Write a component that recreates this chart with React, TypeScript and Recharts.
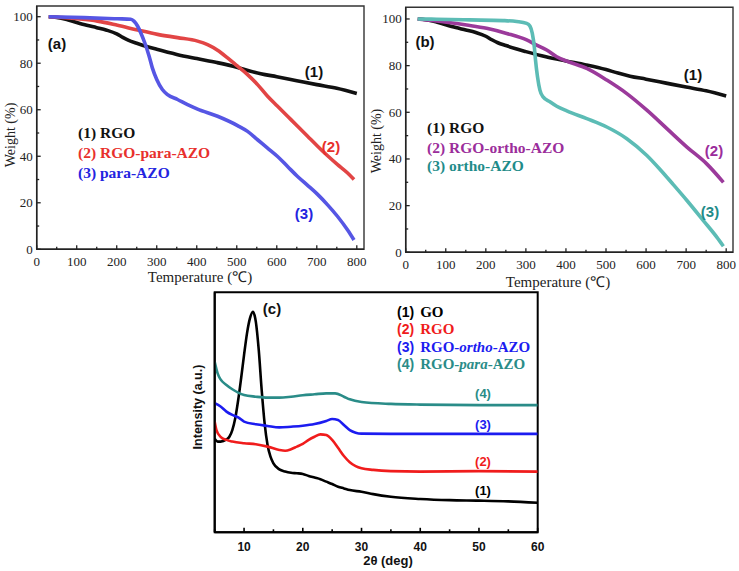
import React from 'react';
import { LineChart, Line, XAxis, YAxis, ReferenceArea } from 'recharts';

type Pt = { x: number; y: number };

// ---------- TGA data: temperature (°C) vs weight (%) ----------
const rgoTGA: Pt[] = [
  { x: 30, y: 100 }, { x: 50, y: 99.7 }, { x: 75, y: 98.8 }, { x: 100, y: 97.5 }, { x: 125, y: 96.3 },
  { x: 150, y: 95.3 }, { x: 175, y: 94.2 }, { x: 200, y: 92.6 }, { x: 215, y: 91.1 }, { x: 230, y: 89.8 },
  { x: 250, y: 88.6 }, { x: 275, y: 87.2 }, { x: 300, y: 86 }, { x: 350, y: 83.8 }, { x: 400, y: 82 },
  { x: 450, y: 80.3 }, { x: 500, y: 78.3 }, { x: 530, y: 76.8 }, { x: 560, y: 75.5 }, { x: 600, y: 74.2 },
  { x: 650, y: 72.5 }, { x: 700, y: 70.8 }, { x: 750, y: 69.2 }, { x: 800, y: 67 },
];

const rgoParaTGA: Pt[] = [
  { x: 30, y: 100 }, { x: 102, y: 99.1 }, { x: 152, y: 98.1 }, { x: 202, y: 96.3 }, { x: 252, y: 94.3 },
  { x: 302, y: 92.4 }, { x: 352, y: 91 }, { x: 402, y: 89.5 }, { x: 427, y: 88 }, { x: 452, y: 85.6 },
  { x: 477, y: 82.3 }, { x: 502, y: 78.7 }, { x: 527, y: 75.1 }, { x: 552, y: 70.8 }, { x: 577, y: 65.8 },
  { x: 602, y: 61.5 }, { x: 627, y: 57.2 }, { x: 652, y: 52.9 }, { x: 677, y: 48.6 }, { x: 702, y: 44.3 },
  { x: 727, y: 40.2 }, { x: 752, y: 36.4 }, { x: 777, y: 32.8 }, { x: 793, y: 30 },
];

const paraTGA: Pt[] = [
  { x: 30, y: 100 }, { x: 118, y: 99.6 }, { x: 202, y: 99.1 }, { x: 235, y: 98.9 }, { x: 243, y: 98.1 },
  { x: 252, y: 96 }, { x: 260, y: 93.1 }, { x: 270, y: 88.8 }, { x: 281, y: 83 }, { x: 289, y: 78 },
  { x: 300, y: 73 }, { x: 314, y: 68.7 }, { x: 327, y: 66.5 }, { x: 352, y: 64.4 }, { x: 377, y: 62.2 },
  { x: 402, y: 60.3 }, { x: 452, y: 57.2 }, { x: 502, y: 53.2 }, { x: 527, y: 50.7 }, { x: 552, y: 47.1 },
  { x: 577, y: 43.5 }, { x: 602, y: 39.9 }, { x: 627, y: 35.6 }, { x: 652, y: 31.3 }, { x: 677, y: 27.5 },
  { x: 702, y: 23.6 }, { x: 727, y: 19.1 }, { x: 752, y: 14.1 }, { x: 777, y: 8.3 }, { x: 793, y: 4 },
];

const rgoOrthoTGA: Pt[] = [
  { x: 30, y: 100 }, { x: 102, y: 98.6 }, { x: 152, y: 97.4 }, { x: 202, y: 96 }, { x: 252, y: 93.8 },
  { x: 302, y: 91 }, { x: 327, y: 88.8 }, { x: 352, y: 86.7 }, { x: 377, y: 83.8 }, { x: 402, y: 81.9 },
  { x: 452, y: 78.8 }, { x: 502, y: 73.8 }, { x: 552, y: 68 }, { x: 602, y: 60.9 }, { x: 652, y: 53 },
  { x: 702, y: 45.1 }, { x: 752, y: 37.8 }, { x: 793, y: 30 },
];

const orthoTGA: Pt[] = [
  { x: 30, y: 100 }, { x: 77, y: 99.9 }, { x: 160, y: 99.6 }, { x: 243, y: 99.3 }, { x: 277, y: 98.9 },
  { x: 302, y: 98.1 }, { x: 310, y: 97 }, { x: 316, y: 93.8 }, { x: 321, y: 88.1 }, { x: 324, y: 82.4 },
  { x: 329, y: 75.2 }, { x: 335, y: 69.5 }, { x: 343, y: 66.6 }, { x: 360, y: 64.5 }, { x: 377, y: 62.6 },
  { x: 402, y: 60.6 }, { x: 452, y: 57.3 }, { x: 502, y: 53.7 }, { x: 552, y: 48.7 }, { x: 602, y: 41.5 },
  { x: 635, y: 35.5 }, { x: 668, y: 29 }, { x: 702, y: 22.2 }, { x: 743, y: 13.6 }, { x: 777, y: 6.4 },
  { x: 793, y: 2.6 },
];

// ---------- XRD data: 2θ (deg) vs intensity (a.u.) ----------
const goXRD: Pt[] = [
  { x: 5, y: 39 }, { x: 5.5, y: 37.8 }, { x: 6, y: 37.8 }, { x: 7, y: 38.7 }, { x: 7.5, y: 39.8 },
  { x: 8, y: 42.6 }, { x: 8.5, y: 47.5 }, { x: 9, y: 55.1 }, { x: 9.5, y: 64.2 }, { x: 10, y: 73.9 },
  { x: 10.5, y: 82.9 }, { x: 11, y: 89.1 }, { x: 11.5, y: 91.9 }, { x: 12, y: 87.8 }, { x: 12.5, y: 76 },
  { x: 13, y: 59.3 }, { x: 13.5, y: 45.4 }, { x: 14, y: 36.4 }, { x: 14.5, y: 31.5 }, { x: 15, y: 28.7 },
  { x: 16, y: 26.2 }, { x: 17, y: 25.3 }, { x: 18, y: 24.8 }, { x: 19, y: 24.6 }, { x: 20, y: 24.3 },
  { x: 21, y: 23.5 }, { x: 22, y: 22.8 }, { x: 23, y: 22.1 }, { x: 24, y: 21.1 }, { x: 25, y: 20.1 },
  { x: 26, y: 19 }, { x: 27, y: 18.3 }, { x: 28, y: 17.6 }, { x: 30, y: 16.9 }, { x: 32, y: 15.9 },
  { x: 35, y: 14.8 }, { x: 40, y: 13.9 }, { x: 45, y: 13.4 }, { x: 50, y: 13.2 }, { x: 55, y: 12.9 },
  { x: 60, y: 12.3 },
];

const rgoXRD: Pt[] = [
  { x: 5, y: 46.1 }, { x: 5.3, y: 42.6 }, { x: 6, y: 39.8 }, { x: 7, y: 38.5 }, { x: 8, y: 37.8 },
  { x: 10, y: 37.1 }, { x: 12, y: 36.7 }, { x: 14, y: 35.7 }, { x: 16, y: 34.3 }, { x: 17, y: 34 },
  { x: 18, y: 34.6 }, { x: 19, y: 35.7 }, { x: 20, y: 36.8 }, { x: 21, y: 38.5 }, { x: 22, y: 39.8 },
  { x: 23, y: 40.8 }, { x: 24, y: 40.5 }, { x: 25, y: 38.5 }, { x: 26, y: 35.2 }, { x: 27, y: 31.8 },
  { x: 28, y: 29.2 }, { x: 29, y: 27.6 }, { x: 30, y: 26.7 }, { x: 32, y: 26 }, { x: 35, y: 25.5 },
  { x: 40, y: 25.3 }, { x: 50, y: 25.5 }, { x: 60, y: 25.3 },
];

const rgoOrthoXRD: Pt[] = [
  { x: 5, y: 53.8 }, { x: 6, y: 52.4 }, { x: 7, y: 50.3 }, { x: 8, y: 48.9 }, { x: 9, y: 47.9 },
  { x: 10, y: 46.1 }, { x: 12, y: 45 }, { x: 14, y: 44.3 }, { x: 16, y: 43.7 }, { x: 18, y: 44 },
  { x: 20, y: 44.4 }, { x: 22, y: 45.1 }, { x: 24, y: 46.4 }, { x: 25, y: 47.2 }, { x: 26, y: 46.8 },
  { x: 27, y: 44.7 }, { x: 28, y: 42.6 }, { x: 29, y: 41.5 }, { x: 30, y: 41.1 }, { x: 35, y: 41 },
  { x: 40, y: 41 }, { x: 50, y: 41 }, { x: 60, y: 41 },
];

const rgoParaXRD: Pt[] = [
  { x: 5, y: 71 }, { x: 5.5, y: 66.2 }, { x: 6, y: 63.7 }, { x: 7, y: 61.4 }, { x: 8, y: 59.6 },
  { x: 9, y: 58.2 }, { x: 10, y: 57.2 }, { x: 12, y: 56.5 }, { x: 14, y: 56.1 }, { x: 16, y: 56.1 },
  { x: 18, y: 56.5 }, { x: 20, y: 57.1 }, { x: 22, y: 57.5 }, { x: 24, y: 57.9 }, { x: 25.5, y: 57.9 },
  { x: 27, y: 56.5 }, { x: 28, y: 55.4 }, { x: 30, y: 54.3 }, { x: 35, y: 53.5 }, { x: 40, y: 53.2 },
  { x: 50, y: 53 }, { x: 60, y: 53 },
];

// ---------- ticks ----------
const tgaXTicks = [0, 50, 100, 150, 200, 250, 300, 350, 400, 450, 500, 550, 600, 650, 700, 750, 800];
const tgaYTicks = [0, 10, 20, 30, 40, 50, 60, 70, 80, 90, 100];
const xrdXTicks = [5, 10, 15, 20, 25, 30, 35, 40, 45, 50, 55, 60];

const SERIF = '"Liberation Serif", "Times New Roman", serif';
const SANS = '"Liberation Sans", Arial, sans-serif';

const TgaXTick = (offset: number) => (props: any) => {
  const { x, y, payload } = props;
  const v = payload.value as number;
  const major = v % 100 === 0;
  return (
    <g>
      <line x1={x} y1={y} x2={x} y2={y - (major ? 4 : 2.5)} stroke="#222" strokeWidth={1.3} />
      {major && (
        <text x={x} y={y + offset} textAnchor="middle" dominantBaseline="central" fontFamily={SERIF} fontSize={13} fill="#222">
          {v}
        </text>
      )}
    </g>
  );
};

const TgaYTick = (props: any) => {
  const { x, y, payload } = props;
  const v = payload.value as number;
  const major = v % 20 === 0;
  return (
    <g>
      <line x1={x} y1={y} x2={x + (major ? 4 : 2.5)} y2={y} stroke="#222" strokeWidth={1.3} />
      {major && (
        <text x={x - 4} y={y} textAnchor="end" dominantBaseline="central" fontFamily={SERIF} fontSize={13} fill="#222">
          {v}
        </text>
      )}
    </g>
  );
};

const XrdXTick = (props: any) => {
  const { x, y, payload } = props;
  const v = payload.value as number;
  const major = v % 10 === 0;
  return (
    <g>
      <line x1={x} y1={y} x2={x} y2={y - (major ? 4.5 : 3)} stroke="#000" strokeWidth={1.6} />
      {major && (
        <text x={x} y={y + 14.5} textAnchor="middle" dominantBaseline="central" fontFamily={SANS} fontWeight="bold" fontSize={12} fill="#111">
          {v}
        </text>
      )}
    </g>
  );
};

type TgaSeries = { data: Pt[]; color: string; name: string };

function TgaPanel(p: {
  left: number; top: number; width: number; height: number;
  plot: { top: number; right: number; bottom: number; left: number };
  xMax: number; yMax: number; tickOffset: number; series: TgaSeries[];
}) {
  return (
    <div style={{ position: 'absolute', left: p.left, top: p.top, width: p.width, height: p.height }}>
      <LineChart width={p.width} height={p.height} margin={{ top: p.plot.top, right: p.plot.right, bottom: 0, left: 0 }}>
        <XAxis
          type="number" dataKey="x" domain={[0, p.xMax]} ticks={tgaXTicks} interval={0}
          height={p.plot.bottom} tickSize={0} tickMargin={0} tickLine={false}
          axisLine={{ stroke: '#222', strokeWidth: 1.5 }} tick={TgaXTick(p.tickOffset)} allowDataOverflow
        />
        <YAxis
          type="number" dataKey="y" domain={[0, p.yMax]} ticks={tgaYTicks} interval={0}
          width={p.plot.left} tickSize={0} tickMargin={0} tickLine={false}
          axisLine={{ stroke: '#222', strokeWidth: 1.5 }} tick={TgaYTick} allowDataOverflow
        />
        <ReferenceArea x1={0} x2={p.xMax} y1={0} y2={p.yMax} fill="none" stroke="#333" strokeWidth={1.4} fillOpacity={0} />
        {p.series.map((s) => (
          <Line
            key={s.name} name={s.name} data={s.data} dataKey="y" type="monotone" stroke={s.color}
            strokeWidth={3.6} dot={false} activeDot={false} isAnimationActive={false}
          />
        ))}
      </LineChart>
    </div>
  );
}

const xrdSeries = [
  { name: 'GO', data: goXRD, color: '#000000' },
  { name: 'RGO', data: rgoXRD, color: '#f01c1c' },
  { name: 'RGO-ortho-AZO', data: rgoOrthoXRD, color: '#1c1cf0' },
  { name: 'RGO-para-AZO', data: rgoParaXRD, color: '#2a8c88' },
];

function XrdPanel() {
  const W = 380, H = 286;
  return (
    <div style={{ position: 'absolute', left: 180, top: 285, width: W, height: H }}>
      <LineChart width={W} height={H} margin={{ top: 7.3, right: 22.3, bottom: 0, left: 0 }}>
        <XAxis
          type="number" dataKey="x" domain={[5, 60]} ticks={xrdXTicks} interval={0}
          height={38.7} tickSize={0} tickMargin={0} tickLine={false}
          axisLine={{ stroke: '#000', strokeWidth: 2 }} tick={XrdXTick} allowDataOverflow
        />
        <YAxis
          type="number" dataKey="y" domain={[0, 100]} width={34.7} tick={false} tickLine={false}
          axisLine={{ stroke: '#000', strokeWidth: 2 }} allowDataOverflow
        />
        <ReferenceArea x1={5} x2={60} y1={0} y2={100} fill="none" fillOpacity={0} stroke="#000" strokeWidth={2} />
        {xrdSeries.map((s) => (
          <Line
            key={s.name} name={s.name} data={s.data} dataKey="y" type="monotone" stroke={s.color}
            strokeWidth={2.6} dot={false} activeDot={false} isAnimationActive={false}
          />
        ))}
      </LineChart>
    </div>
  );
}

const C = {
  black: '#111111',
  red: '#e8302c',
  blue: '#2424e0',
  purple: '#9b2d9b',
  teal: '#1f8c8a',
};

function Overlay() {
  const lab = (x: number, y: number, t: string, color: string, size = 15) => (
    <text x={x} y={y} textAnchor="middle" dominantBaseline="central" fontFamily={SANS} fontWeight="bold" fontSize={size} fill={color}>
      {t}
    </text>
  );
  const leg = (x: number, y: number, t: string, color: string) => (
    <text x={x} y={y} dominantBaseline="central" fontFamily={SERIF} fontWeight="bold" fontSize={15.5} fill={color}>
      {t}
    </text>
  );
  const xrdLeg = (y: number, num: string, parts: [string, boolean][], color: string) => (
    <text x={397} y={y} dominantBaseline="central" fill={color}>
      <tspan fontFamily={SANS} fontWeight="bold" fontSize={14}>{num}</tspan>
      <tspan fontFamily={SERIF} fontWeight="bold" fontSize={15} dx={6}>
        {parts.map(([s, it], i) => (
          <tspan key={i} fontStyle={it ? 'italic' : 'normal'}>{s}</tspan>
        ))}
      </tspan>
    </text>
  );
  return (
    <svg width={739} height={571} style={{ position: 'absolute', left: 0, top: 0, pointerEvents: 'none' }}>
      {/* panel (a) */}
      {lab(57, 43, '(a)', C.black)}
      {leg(78, 132, '(1) RGO', C.black)}
      {leg(78, 152, '(2) RGO-para-AZO', C.red)}
      {leg(78, 172, '(3) para-AZO', C.blue)}
      {lab(314, 71, '(1)', C.black)}
      {lab(331, 146, '(2)', C.red)}
      {lab(304, 213, '(3)', C.blue)}
      <text x={10} y={135} transform="rotate(-90 10 135)" textAnchor="middle" dominantBaseline="central" fontFamily={SERIF} fontSize={14} fill="#222">
        Weight (%)
      </text>
      <text x={200} y={277} textAnchor="middle" dominantBaseline="central" fontFamily={SERIF} fontSize={15} fill="#222">
        Temperature (℃)
      </text>

      {/* panel (b) */}
      {lab(425, 41, '(b)', C.black)}
      {leg(427, 127, '(1) RGO', C.black)}
      {leg(427, 147, '(2) RGO-ortho-AZO', C.purple)}
      {leg(427, 165, '(3) ortho-AZO', C.teal)}
      {lab(693, 74, '(1)', C.black)}
      {lab(714, 150, '(2)', C.purple)}
      {lab(710, 211, '(3)', C.teal)}
      <text x={376} y={141} transform="rotate(-90 376 141)" textAnchor="middle" dominantBaseline="central" fontFamily={SERIF} fontSize={14} fill="#222">
        Weight (%)
      </text>
      <text x={558} y={282} textAnchor="middle" dominantBaseline="central" fontFamily={SERIF} fontSize={15} fill="#222">
        Temperature (℃)
      </text>

      {/* panel (c) */}
      {lab(272, 308, '(c)', C.black, 15)}
      {xrdLeg(312, '(1)', [['GO', false]], '#000')}
      {xrdLeg(329, '(2)', [['RGO', false]], '#f01c1c')}
      {xrdLeg(347, '(3)', [['RGO-', false], ['ortho', true], ['-AZO', false]], '#1c1cf0')}
      {xrdLeg(364, '(4)', [['RGO-', false], ['para', true], ['-AZO', false]], '#2a8c88')}
      {lab(483, 393, '(4)', '#2a8c88', 13)}
      {lab(483, 424, '(3)', '#1c1cf0', 13)}
      {lab(483, 461, '(2)', '#f01c1c', 13)}
      {lab(483, 490, '(1)', '#000', 13)}
      <text x={198} y={407} transform="rotate(-90 198 407)" textAnchor="middle" dominantBaseline="central" fontFamily={SANS} fontWeight="bold" fontSize={12.5} fill="#111">
        Intensity (a.u.)
      </text>
      <text x={388} y={560} textAnchor="middle" dominantBaseline="central" fontFamily={SANS} fontWeight="bold" fontSize={13} fill="#111">
        2θ (deg)
      </text>
    </svg>
  );
}

export default function App() {
  return (
    <div style={{ position: 'absolute', left: 0, top: 0, width: 739, height: 571, background: '#fff', overflow: 'hidden' }}>
      <TgaPanel
        left={0} top={0} width={370} height={290}
        plot={{ top: 6, right: 6, bottom: 40.7, left: 36.7 }}
        xMax={818} yMax={104.6} tickOffset={12}
        series={[
          { name: 'RGO', data: rgoTGA, color: '#111111' },
          { name: 'RGO-para-AZO', data: rgoParaTGA, color: '#e24545' },
          { name: 'para-AZO', data: paraTGA, color: '#5656e4' },
        ]}
      />
      <TgaPanel
        left={370} top={0} width={369} height={290}
        plot={{ top: 7.3, right: 6, bottom: 37.7, left: 35.7 }}
        xMax={817} yMax={105} tickOffset={12.5}
        series={[
          { name: 'RGO', data: rgoTGA, color: '#111111' },
          { name: 'RGO-ortho-AZO', data: rgoOrthoTGA, color: '#9b3a9b' },
          { name: 'ortho-AZO', data: orthoTGA, color: '#5cbcb5' },
        ]}
      />
      <XrdPanel />
      <Overlay />
    </div>
  );
}
